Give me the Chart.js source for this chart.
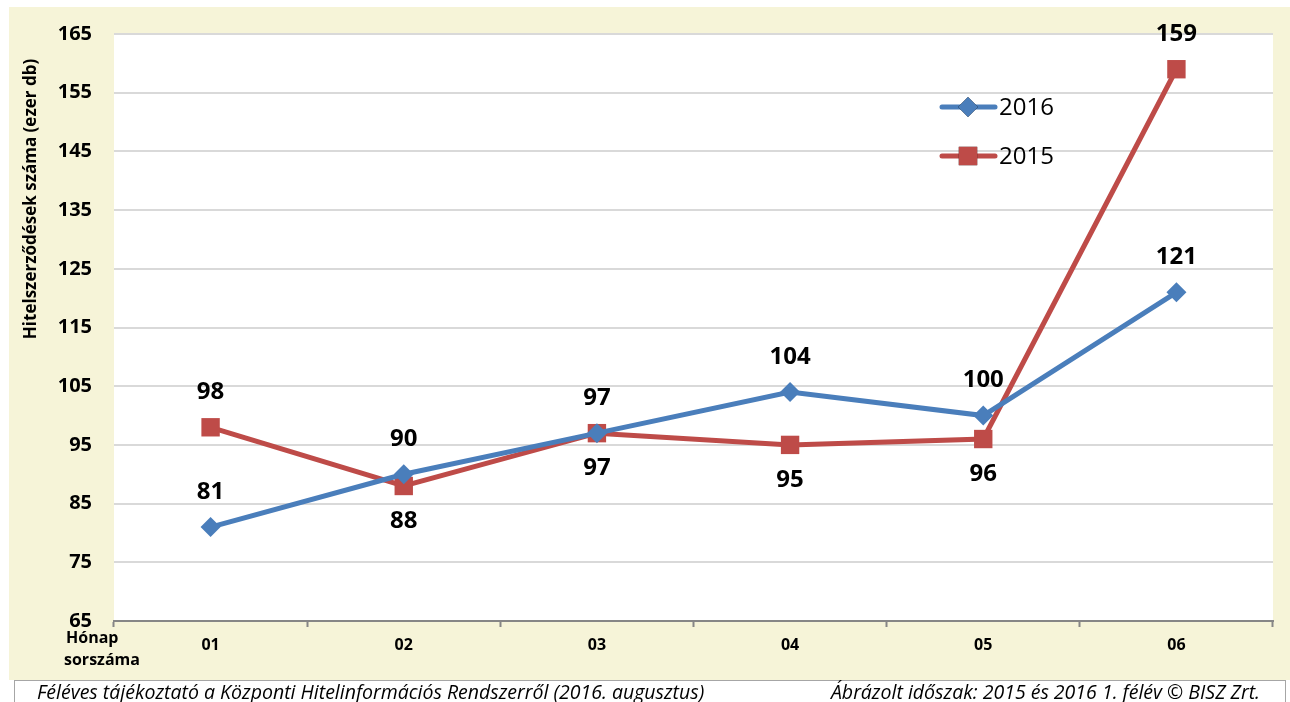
<!DOCTYPE html>
<html>
<head>
<meta charset="utf-8">
<style>
  html, body { margin: 0; padding: 0; background: #ffffff; }
  #wrap { position: relative; width: 1290px; height: 702px; }
  canvas { display: block; }
</style>
<script src="https://cdn.jsdelivr.net/npm/chart.js@4"></script>
</head>
<body>
<div id="wrap"><canvas id="chart" width="1290" height="702"></canvas></div>
<script>
// Month numbers of the first half-year
const months = ['01', '02', '03', '04', '05', '06'];
// New credit contracts, thousand pieces
const values2016 = [81, 90, 97, 104, 100, 121];
const values2015 = [98, 88, 97, 95, 96, 159];
// Where each value label sits relative to its point
const labelSide2016 = ['above', 'above', 'above', 'above', 'above', 'above'];
const labelSide2015 = ['above', 'below', 'below', 'below', 'below', 'above'];
// Value axis ticks
const yTicks = [65, 75, 85, 95, 105, 115, 125, 135, 145, 155, 165];

const FONT = '"Open Sans", Lato, sans-serif';
const BLUE = '#4A7EBB';
const RED = '#BE4B48';
const CREAM = '#F6F4D8';

// Cream page background, white plot area and the source footer box
const framePlugin = {
  id: 'frame',
  beforeDraw(chart) {
    const { ctx, chartArea: a } = chart;
    ctx.save();
    ctx.fillStyle = '#ffffff';
    ctx.fillRect(0, 0, chart.width, chart.height);
    ctx.fillStyle = CREAM;
    ctx.fillRect(9, 7, chart.width - 9, 673);
    ctx.fillStyle = '#ffffff';
    ctx.fillRect(a.left, a.top, a.right - a.left, a.bottom - a.top);
    // footer
    ctx.fillStyle = '#ffffff';
    ctx.fillRect(14, 680, 1272, 30);
    ctx.strokeStyle = '#A6A6A6';
    ctx.lineWidth = 1;
    ctx.strokeRect(14.5, 680.5, 1271, 30);
    ctx.fillStyle = '#000000';
    ctx.font = 'italic 19.5px ' + FONT;
    ctx.textBaseline = 'alphabetic';
    ctx.textAlign = 'left';
    ctx.fillText('Féléves tájékoztató a Központi Hitelinformációs Rendszerről (2016. augusztus)', 37, 699);
    ctx.textAlign = 'right';
    ctx.fillText('Ábrázolt időszak: 2015 és 2016 1. félév © BISZ Zrt.', 1260, 699);
    ctx.restore();
  }
};

// Axis captions, value labels and the in-plot legend
const annotatePlugin = {
  id: 'annotate',
  afterDatasetsDraw(chart) {
    const { ctx } = chart;
    ctx.save();
    ctx.fillStyle = '#000000';

    // rotated value-axis caption
    ctx.save();
    ctx.translate(31, 199);
    ctx.rotate(-Math.PI / 2);
    ctx.font = 'bold 17px ' + FONT;
    ctx.textAlign = 'center';
    ctx.textBaseline = 'middle';
    ctx.fillText('Hitelszerződések száma (ezer db)', 0, 0);
    ctx.restore();

    // category-axis caption
    ctx.font = 'bold 16px ' + FONT;
    ctx.textAlign = 'left';
    ctx.textBaseline = 'middle';
    ctx.fillText('Hónap', 66, 638);
    ctx.fillText('sorszáma', 64, 660);

    // value labels
    const sides = [labelSide2016, labelSide2015];
    ctx.font = 'bold 24px ' + FONT;
    ctx.textAlign = 'center';
    ctx.textBaseline = 'middle';
    chart.data.datasets.forEach((ds, di) => {
      const meta = chart.getDatasetMeta(di);
      meta.data.forEach((pt, i) => {
        const dy = sides[di][i] === 'above' ? -35 : 35;
        ctx.fillText(String(ds.data[i]), pt.x, pt.y + dy);
      });
    });

    // legend
    const items = [
      { ds: chart.data.datasets[0], y: 107 },
      { ds: chart.data.datasets[1], y: 156 }
    ];
    items.forEach(({ ds, y }) => {
      ctx.strokeStyle = ds.borderColor;
      ctx.lineWidth = 5;
      ctx.lineCap = 'round';
      ctx.beginPath();
      ctx.moveTo(942, y);
      ctx.lineTo(995, y);
      ctx.stroke();
      Chart.helpers.drawPoint(ctx, {
        pointStyle: ds.pointStyle,
        radius: ds.pointRadius,
        borderWidth: 0
      }, 968, y);
      ctx.fillStyle = ds.pointBackgroundColor;
      ctx.fill();
      ctx.fillStyle = '#000000';
      ctx.font = '24px ' + FONT;
      ctx.textAlign = 'left';
      ctx.textBaseline = 'middle';
      ctx.fillText(ds.label, 999, y + 1);
    });
    ctx.restore();
  }
};

new Chart(document.getElementById('chart'), {
  type: 'line',
  data: {
    labels: months,
    datasets: [
      {
        label: '2016',
        data: values2016,
        borderColor: BLUE,
        backgroundColor: BLUE,
        pointBackgroundColor: BLUE,
        pointBorderColor: BLUE,
        borderWidth: 5,
        pointStyle: 'rectRot',
        pointRadius: 10,
        pointBorderWidth: 0,
        pointHoverRadius: 10,
        tension: 0
      },
      {
        label: '2015',
        data: values2015,
        borderColor: RED,
        backgroundColor: RED,
        pointBackgroundColor: RED,
        pointBorderColor: RED,
        borderWidth: 5,
        pointStyle: 'rect',
        pointRadius: 13,
        pointBorderWidth: 0,
        pointHoverRadius: 13,
        tension: 0
      }
    ]
  },
  options: {
    responsive: false,
    animation: false,
    devicePixelRatio: 1,
    layout: { padding: { top: 34, right: 17, left: 0, bottom: 0 } },
    plugins: {
      legend: { display: false },
      tooltip: { enabled: false }
    },
    scales: {
      x: {
        type: 'category',
        offset: true,
        afterFit(s) { s.height = 81; },
        grid: {
          offset: true,
          drawOnChartArea: false,
          drawTicks: true,
          tickLength: 6,
          tickWidth: 2,
          tickColor: '#868686'
        },
        border: { display: true, color: '#868686', width: 2 },
        ticks: {
          color: '#000000',
          font: { family: FONT, size: 16, weight: 'bold' },
          padding: 9,
          maxRotation: 0
        }
      },
      y: {
        min: 65,
        max: 165,
        afterFit(s) { s.width = 114; },
        afterBuildTicks(s) { s.ticks = yTicks.map(v => ({ value: v })); },
        grid: {
          color: '#D9D9D9',
          lineWidth: 2,
          drawTicks: false
        },
        border: { display: false },
        ticks: {
          color: '#000000',
          font: { family: FONT, size: 20, weight: 'bold' },
          padding: 22
        }
      }
    }
  },
  plugins: [framePlugin, annotatePlugin]
});
</script>
</body>
</html>
